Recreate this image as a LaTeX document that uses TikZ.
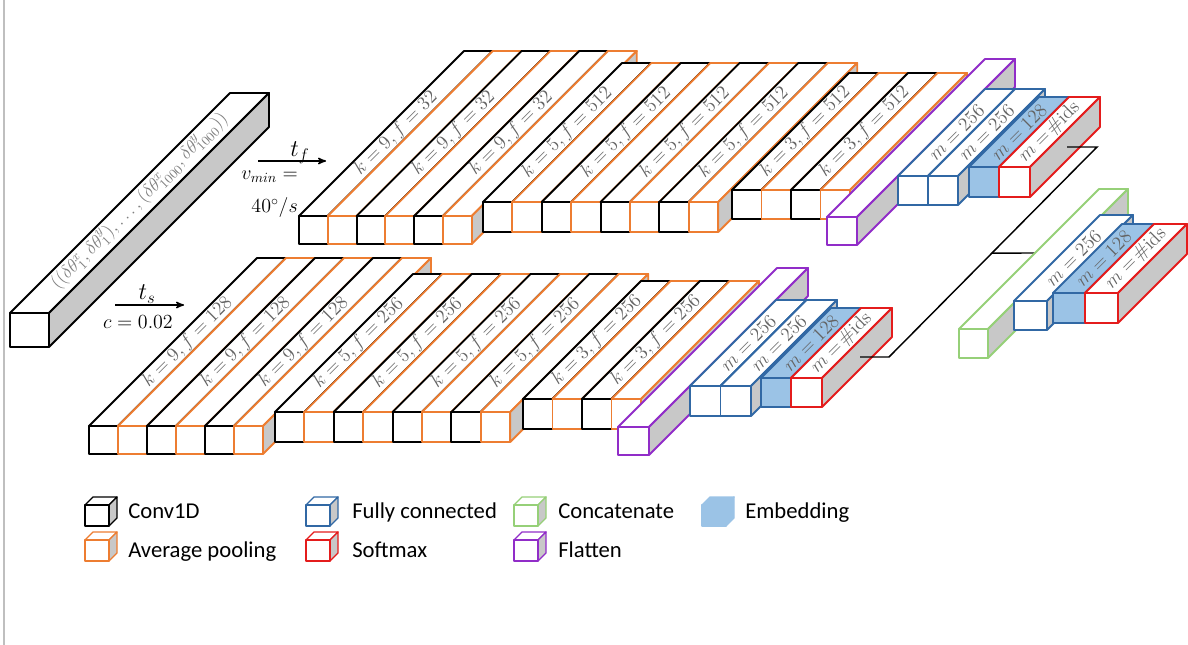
\RequirePackage{fix-cm}
\documentclass[tikz,border=0pt]{standalone}
\usepackage{fontspec}
\newfontfamily\legfont{Carlito}
\usetikzlibrary{calc}
\usetikzlibrary{arrows}
\definecolor{poolc}{RGB}{237,125,49}
\definecolor{fcc}{RGB}{49,104,164}
\definecolor{smc}{RGB}{228,28,28}
\definecolor{catc}{RGB}{150,208,120}
\definecolor{flatc}{RGB}{145,45,200}
\definecolor{embblue}{RGB}{155,195,230}
\definecolor{sidegray}{RGB}{200,200,200}
\definecolor{lblgray}{RGB}{100,100,100}
\tikzset{
blk/.style={line width=1.4pt, line join=round},
convb/.style={draw=black},
poolb/.style={draw=poolc},
fcb/.style={draw=fcc},
smb/.style={draw=smc},
catb/.style={draw=catc},
flatb/.style={draw=flatc},
icon/.style={line width=1pt},
lbl/.style={rotate=45, inner sep=0pt, text=lblgray, font=\fontsize{14.5}{14.5}\selectfont},
intxt/.style={rotate=45, inner sep=0pt, text=black!50, font=\fontsize{14}{14}\selectfont},
ttxt/.style={inner sep=0pt, font=\fontsize{18}{18}\selectfont},
eqtxt/.style={inner sep=0pt, font=\fontsize{15}{15}\selectfont},
leg/.style={anchor=base west, inner sep=0pt, font=\legfont\fontsize{17}{17}\selectfont},
conn/.style={line width=1.1pt}
}
\newcounter{lblno}
% block: front top-left (x,y), width, height, depth, label
\newcommand{\blk}[7][]{%
  \filldraw[blk,fill=white,#1] (#2,#3) -- ++(#6,-#6) -- ++(#4,0) -- ++(-#6,#6) -- cycle;
  \filldraw[blk,fill=sidegray,#1] (#2+#4,#3) -- ++(#6,-#6) -- ++(0,#5) -- ++(-#6,#6) -- cycle;
  \filldraw[blk,fill=white,#1] (#2,#3) rectangle ++(#4,#5);
  \if\relax\detokenize{#7}\relax\else
    \stepcounter{lblno}
    \node[lbl] (lbl\thelblno) at (#2+#4/2+#6/2,#3-#6/2) {#7};
  \fi
}
% conv / pooling group: x0, y, width, height, depth, count, label
\newcommand{\grp}[7]{%
  \foreach \i in {1,...,#6}{%
    \pgfmathsetmacro{\bx}{#1+(\i-1)*#3}%
    \ifodd\i\relax
      \blk[convb]{\bx}{#2}{#3}{#4}{#5}{#7}%
    \else
      \blk[poolb]{\bx}{#2}{#3}{#4}{#5}{}%
    \fi
  }%
}

\begin{document}
\begin{tikzpicture}[x=0.75pt,y=-0.75pt,>=stealth']
\useasboundingbox (0,0) rectangle (1188,645);
\draw[black!25, line width=0.8pt] (4,0) -- (4,645);

% input sequence
\blk[convb]{10}{313}{39}{34}{220}{}
\node[intxt] (seq) at (139.5,201) {$\big((\delta\theta^x_1,\delta\theta^y_1),\dots,(\delta\theta^x_{1000},\delta\theta^y_{1000})\big)$};

% t_f branch
\coordinate (tf0) at (258,161);
\coordinate (tf1) at (326,161);
\draw[->, line width=1.1pt] (tf0) -- (tf1);
\node[ttxt, anchor=base] (tf) at (300,157) {$t_f$};
\node[eqtxt, anchor=base east] (vmin) at (298,180) {$v_{min} =$};
\node[eqtxt, anchor=base east] (vval) at (298,213) {$40^\circ/s$};

\grp{299}{216}{28.8}{28}{165}{6}{$k = 9, f = 32$}
\grp{483}{202}{29.4}{30}{139}{8}{$k = 5, f = 512$}
\grp{732}{190}{29.5}{29}{117}{4}{$k = 3, f = 512$}
\blk[flatb]{827}{217}{30}{28}{158}{}
\blk[fcb]{898}{176}{30}{29}{87}{$m = 256$}
\blk[fcb]{928}{176}{30}{29}{87}{$m = 256$}
\blk[fcb,fill=embblue]{969}{167}{30}{30}{70}{$m = 128$}
\blk[smb]{999}{167}{31}{30}{70}{$m =\!\#\mathrm{ids}$}

% t_s branch
\coordinate (ts0) at (115,305);
\coordinate (ts1) at (184,305);
\draw[->, line width=1.1pt] (ts0) -- (ts1);
\node[ttxt, anchor=base] (ts) at (147,300) {$t_s$};
\node[eqtxt, anchor=base] (cval) at (138,328) {$c = 0.02$};

\grp{89}{426}{29}{28}{168}{6}{$k = 9, f = 128$}
\grp{275}{412}{29.4}{30}{138}{8}{$k = 5, f = 256$}
\grp{523}{399}{29.5}{30}{118}{4}{$k = 3, f = 256$}
\blk[flatb]{618}{427}{31}{28}{159}{}
\blk[fcb]{690}{386}{30.5}{30}{86}{$m = 256$}
\blk[fcb]{720.5}{386}{30.5}{30}{86}{$m = 256$}
\blk[fcb,fill=embblue]{761}{378}{30}{29}{70}{$m = 128$}
\blk[smb]{791}{378}{31}{29}{70}{$m =\!\#\mathrm{ids}$}

% merge
\coordinate (fsm) at (1067,147);
\coordinate (fbend) at (1097,147);
\coordinate (ssm) at (860,357);
\coordinate (sbend) at (889,357);
\coordinate (jn) at ($(sbend)!0.495!(fbend)$);
\coordinate (cat) at (1036,253);
\draw[conn] (ssm) -- (sbend) -- (fbend) -- (fsm);
\draw[conn] (jn) -- (cat);

\blk[catb]{959}{329}{29}{29}{140}{}
\blk[fcb]{1014}{301}{33}{29}{86}{$m = 256$}
\blk[fcb,fill=embblue]{1053}{293}{32}{30}{69}{$m = 128$}
\blk[smb]{1085}{293}{33}{30}{69}{$m =\!\#\mathrm{ids}$}

% legend
\blk[convb,icon]{85}{505}{24}{21}{8}{}
\node[leg] (lconv) at (128,518) {Conv1D};
\blk[poolb,icon]{85}{540}{24}{21}{8}{}
\node[leg] (lpool) at (128,557) {Average pooling};
\blk[fcb,icon]{306}{505}{24}{21}{8}{}
\node[leg] (lfc) at (352,518) {Fully connected};
\blk[smb,icon]{306}{540}{24}{21}{8}{}
\node[leg] (lsm) at (352,557) {Softmax};
\blk[catb,icon]{514}{505}{24}{21}{8}{}
\node[leg] (lcat) at (558,518) {Concatenate};
\blk[flatb,icon]{514}{540}{24}{21}{8}{}
\node[leg] (lflat) at (558,557) {Flatten};
\blk[icon,draw=embblue,fill=embblue]{702}{505}{24}{21}{8}{}
\node[leg] (lemb) at (745,518) {Embedding};
\end{tikzpicture}
\end{document}
